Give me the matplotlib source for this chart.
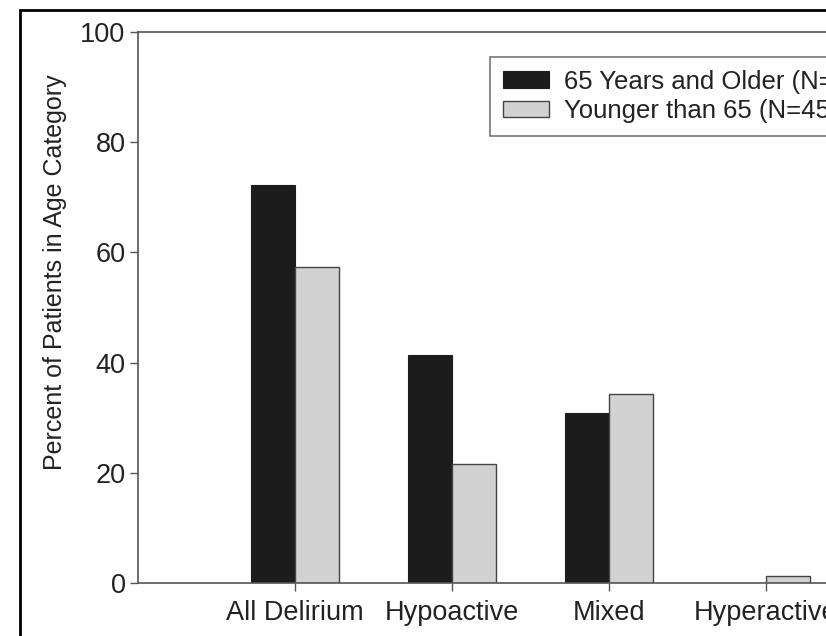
import numpy as np
import matplotlib
matplotlib.use("Agg")
import matplotlib.pyplot as plt
from matplotlib.patches import Rectangle

# Data
categories = ["All Delirium", "Hypoactive", "Mixed", "Hyperactive"]
older = [72.2, 41.4, 30.9, 0.0]
younger = [57.3, 21.6, 34.3, 1.3]
labels = ["65 Years and Older (N=55)", "Younger than 65 (N=45)"]

plt.rcParams['font.family'] = ['Liberation Sans', 'DejaVu Sans']

fig = plt.figure(figsize=(8.26, 6.36), dpi=100)
# axes run past the right edge: the source figure is cropped
ax = fig.add_axes([138 / 826, 53 / 636, 785 / 826, 551 / 636])

x = np.arange(1, len(categories) + 1)
w = 0.28
ax.bar(x - w / 2, older, w, color="#1c1c1c", edgecolor="#1c1c1c", linewidth=0.8, label=labels[0])
ax.bar(x + w / 2, younger, w, color="#d2d2d2", edgecolor="#444444", linewidth=1.0, label=labels[1])

ax.set_xlim(0, 5)
ax.set_ylim(0, 100)
ax.set_xticks(x)
ax.set_xticklabels(categories, fontsize=19.5, color="#222222")
ax.set_yticks([0, 20, 40, 60, 80, 100])
ax.tick_params(axis="y", labelsize=19.5, labelcolor="#222222", direction="out", length=6, width=1, color="#555555", pad=3)
ax.tick_params(axis="x", direction="out", length=6, width=1, color="#555555", pad=6)
for s in ax.spines.values():
    s.set_color("#555555")
    s.set_linewidth(1.2)
ax.set_ylabel("Percent of Patients in Age Category", fontsize=18, color="#222222")
ax.yaxis.set_label_coords(-0.09, 0.564)

leg = ax.legend(loc="upper left", bbox_to_anchor=(0.448, 0.955), fontsize=18.5, frameon=True,
                fancybox=False, edgecolor="#555555", handlelength=1.8, handleheight=0.6,
                handletextpad=0.6, borderpad=0.5, labelspacing=0.2, borderaxespad=0)
leg.get_frame().set_linewidth(1.2)
for t in leg.get_texts():
    t.set_color("#222222")

# outer frame of the original picture
fig.add_artist(Rectangle((20 / 826, -0.1), 1.2, 1 - 10 / 636 + 0.1, transform=fig.transFigure,
                         fill=False, edgecolor="black", linewidth=2))

fig.savefig("out.png", dpi=100)
